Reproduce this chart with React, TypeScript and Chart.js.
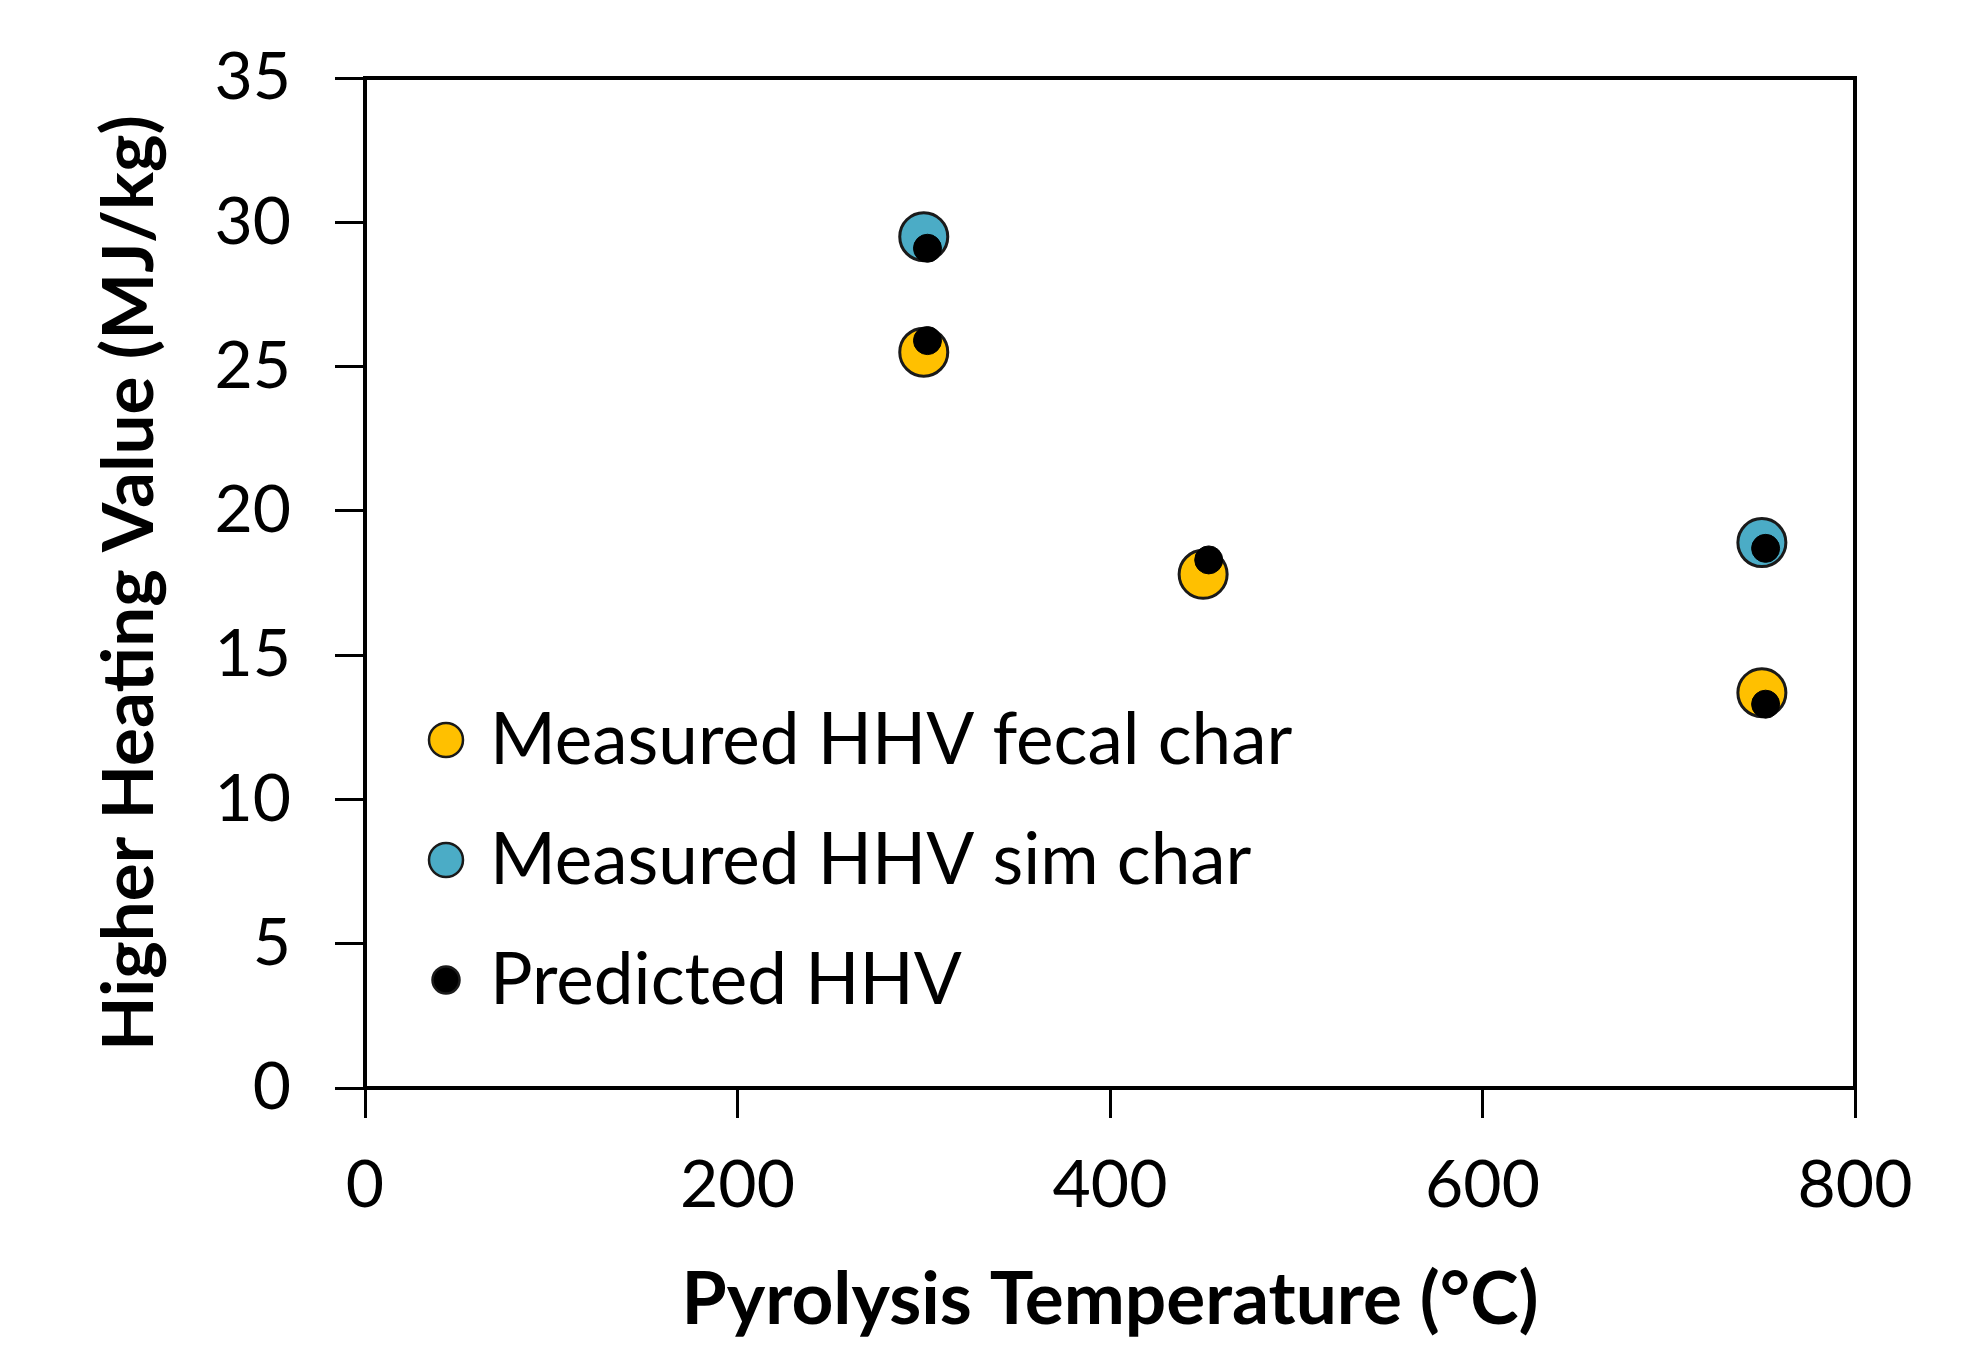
import React, { useEffect, useRef } from 'react';
import { Chart, registerables } from 'chart.js';

Chart.register(...registerables);

// ---- data ----
const fecalTemps = [300, 450, 750];
const fecalHHV = [25.5, 17.8, 13.7];
const simTemps = [300, 750];
const simHHV = [29.5, 18.9];
const predTemps = [302, 302, 453, 752, 752];
const predHHV = [29.1, 25.9, 18.3, 18.7, 13.3];

const xTicks = [0, 200, 400, 600, 800];
const yTicks = [0, 5, 10, 15, 20, 25, 30, 35];

const seriesNames = ['Measured HHV fecal char', 'Measured HHV sim char', 'Predicted HHV'];
const seriesColors = ['#FFC000', '#4BACC6', '#000000'];

const xTitle = 'Pyrolysis Temperature (°C)';
const yTitle = 'Higher Heating Value (MJ/kg)';

const FONT = 'Lato';
const TICK_SIZE = 66;
const LEGEND_SIZE = 71;
const XTITLE_SIZE = 73;
const YTITLE_SIZE = 71;

const legendRadii = [17, 17, 13.5];

const boxLegendPlugin = {
  id: 'boxLegend',
  beforeDatasetsDraw(chart: any) {
    const { ctx, chartArea: a } = chart;
    ctx.save();
    ctx.strokeStyle = '#000';
    ctx.lineWidth = 4;
    ctx.strokeRect(a.left, a.top, a.right - a.left, a.bottom - a.top);
    ctx.restore();
  },
  afterDatasetsDraw(chart: any) {
    const { ctx, chartArea: a } = chart;
    ctx.save();
    chart.data.datasets.forEach((ds: any, i: number) => {
      const cy = a.top + 662 + i * 120;
      const cx = a.left + 81;
      ctx.beginPath();
      ctx.arc(cx, cy, legendRadii[i], 0, Math.PI * 2);
      ctx.fillStyle = ds.backgroundColor;
      ctx.fill();
      ctx.lineWidth = 2.5;
      ctx.strokeStyle = '#1a1a1a';
      ctx.stroke();
      ctx.fillStyle = '#000';
      ctx.font = `${LEGEND_SIZE}px ${FONT}`;
      ctx.textBaseline = 'alphabetic';
      ctx.textAlign = 'left';
      ctx.fillText(ds.label, a.left + 125, cy + 24);
    });
    ctx.restore();
  },
};

export default function App() {
  const canvasRef = useRef<HTMLCanvasElement | null>(null);

  useEffect(() => {
    document.body.style.margin = '0';
    const canvas = canvasRef.current;
    if (!canvas) return;
    const chart = new Chart(canvas, {
      type: 'scatter',
      data: {
        datasets: [
          {
            label: seriesNames[0],
            data: fecalTemps.map((x, i) => ({ x, y: fecalHHV[i] })),
            backgroundColor: seriesColors[0],
            borderColor: '#1a1a1a',
            borderWidth: 3,
            pointRadius: 24,
            order: 2,
          },
          {
            label: seriesNames[1],
            data: simTemps.map((x, i) => ({ x, y: simHHV[i] })),
            backgroundColor: seriesColors[1],
            borderColor: '#1a1a1a',
            borderWidth: 3,
            pointRadius: 24,
            order: 1,
          },
          {
            label: seriesNames[2],
            data: predTemps.map((x, i) => ({ x, y: predHHV[i] })),
            backgroundColor: seriesColors[2],
            borderColor: '#000',
            borderWidth: 1,
            pointRadius: 14,
            order: 0,
          },
        ],
      },
      options: {
        responsive: false,
        animation: false,
        devicePixelRatio: 1,
        layout: { padding: { top: 78, right: 127, left: 0, bottom: 0 } },
        plugins: {
          legend: { display: false },
          tooltip: { enabled: false },
        },
        scales: {
          x: {
            type: 'linear',
            min: 0,
            max: 800,
            afterBuildTicks: (s: any) => {
              s.ticks = xTicks.map((v) => ({ value: v }));
            },
            afterFit: (s: any) => {
              s.height = 260;
              s.paddingLeft = 0;
              s.paddingRight = 0;
            },
            border: { display: false },
            grid: {
              display: true,
              drawOnChartArea: false,
              drawTicks: true,
              tickLength: 30,
              tickWidth: 3,
              tickColor: '#000',
              color: '#000',
            },
            ticks: {
              color: '#000',
              padding: 28,
              maxRotation: 0,
              font: { family: FONT, size: TICK_SIZE },
            },
            title: {
              display: true,
              text: xTitle,
              color: '#000',
              font: { family: FONT, size: XTITLE_SIZE, weight: 'bold' },
              padding: { top: 0, bottom: 4 },
            },
          },
          y: {
            type: 'linear',
            min: 0,
            max: 35,
            afterBuildTicks: (s: any) => {
              s.ticks = yTicks.map((v) => ({ value: v }));
            },
            afterFit: (s: any) => {
              s.width = 365;
              s.paddingTop = 0;
              s.paddingBottom = 0;
            },
            border: { display: false },
            grid: {
              display: true,
              drawOnChartArea: false,
              drawTicks: true,
              tickLength: 30,
              tickWidth: 3,
              tickColor: '#000',
              color: '#000',
            },
            ticks: {
              color: '#000',
              padding: 44,
              font: { family: FONT, size: TICK_SIZE },
            },
            title: {
              display: true,
              text: yTitle,
              color: '#000',
              font: { family: FONT, size: YTITLE_SIZE, weight: 'bold' },
              padding: { top: 88, bottom: 0 },
            },
          },
        },
      },
      plugins: [boxLegendPlugin],
    });
    return () => chart.destroy();
  }, []);

  return (
    <div style={{ width: 1982, height: 1348, background: '#fff' }}>
      <canvas ref={canvasRef} width={1982} height={1348} />
    </div>
  );
}
